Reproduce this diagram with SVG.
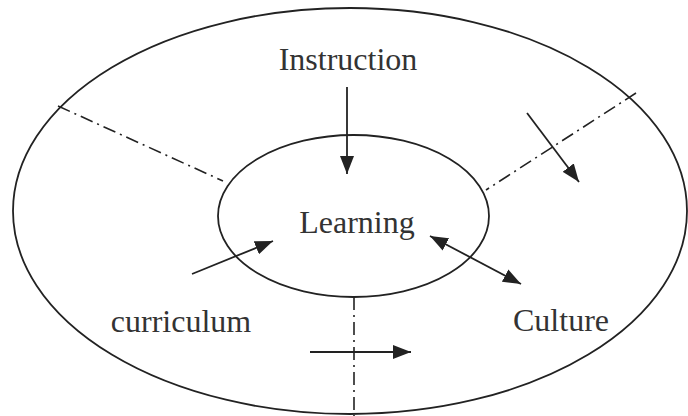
<svg xmlns="http://www.w3.org/2000/svg" width="688" height="416" viewBox="0 0 688 416">
<style>
.ring{fill:none;stroke:#222;stroke-width:1.8}
.div{fill:none;stroke:#222;stroke-width:1.6;stroke-dasharray:13 5 2 5}
.arr{fill:none;stroke:#222;stroke-width:1.8}
text{font-family:"Liberation Serif","Times New Roman",serif;font-size:32px;fill:#333}
</style>
<defs>
<marker id="ah" viewBox="0 0 18 14" refX="18" refY="7" markerWidth="18" markerHeight="14" markerUnits="userSpaceOnUse" orient="auto-start-reverse">
<path d="M0,0 L18,7 L0,14 Z" fill="#222"/>
</marker>
</defs>
<rect width="688" height="416" fill="#fff"/>
<g id="outer"><ellipse class="ring" cx="350" cy="211" rx="337" ry="203"/></g>
<g id="dividers">
<line class="div" x1="58" y1="106" x2="223" y2="181"/>
<line class="div" x1="636" y1="93" x2="486" y2="190"/>
<line class="div" x1="354" y1="297" x2="354" y2="416"/>
</g>
<g id="learning"><ellipse class="ring" cx="353.5" cy="216" rx="135.5" ry="81"/><text x="357" y="233" text-anchor="middle">Learning</text></g>
<g id="instruction"><text x="348" y="70" text-anchor="middle">Instruction</text></g>
<g id="curriculum"><text x="181" y="332" text-anchor="middle">curriculum</text></g>
<g id="culture"><text x="561" y="331" text-anchor="middle">Culture</text></g>
<g id="connectors">
<line class="arr" x1="347" y1="87" x2="347" y2="174" marker-end="url(#ah)"/>
<line class="arr" x1="192" y1="274" x2="273" y2="241" marker-end="url(#ah)"/>
<line class="arr" x1="430" y1="236" x2="521" y2="284" marker-start="url(#ah)" marker-end="url(#ah)"/>
<line class="arr" x1="310" y1="352" x2="411" y2="352" marker-end="url(#ah)"/>
<line class="arr" x1="527" y1="113" x2="579" y2="182" marker-end="url(#ah)"/>
</g>
</svg>
